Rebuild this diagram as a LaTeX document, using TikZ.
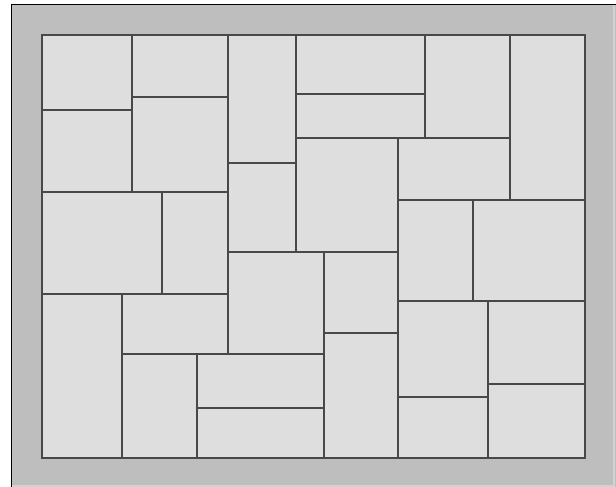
\documentclass[tikz,border=0pt]{standalone}
\begin{document}
\begin{tikzpicture}[x=1pt,y=-1pt,
  tile/.style={fill=tilegray,draw=linegray,line width=1.9pt,line join=miter}]
\definecolor{tilegray}{HTML}{DEDEDE}
\definecolor{framegray}{HTML}{BEBEBE}
\definecolor{linegray}{HTML}{484848}
\definecolor{edgegray}{HTML}{D2D2D2}
\useasboundingbox (0,0) rectangle (616,487);
\fill[white] (0,0) rectangle (616,487);
% frame
\fill[framegray] (11,4) rectangle (616,487);
\draw[edgegray,line width=1.5pt] (614,5) -- (614,486) -- (12,486);
\draw[black,line width=1.8pt] (11.5,487) -- (11.5,4.5) -- (616,4.5);
% tiles
\foreach \a/\b/\c/\d in {
 42/35/132/110, 42/110/132/192, 132/35/228/97, 132/97/228/192,
 228/35/296/163, 228/163/296/252, 296/35/425/94, 296/94/425/138,
 425/35/510/138, 510/35/585/200, 296/138/398/252, 398/138/510/200,
 42/192/162/294, 162/192/228/294, 228/252/324/354, 324/252/398/333,
 398/200/473/301, 473/200/585/301, 42/294/122/458, 122/294/228/354,
 122/354/197/458, 197/354/324/408, 197/408/324/458, 324/333/398/458,
 398/301/488/397, 398/397/488/458, 488/301/585/384, 488/384/585/458}
  \draw[tile] (\a,\b) rectangle (\c,\d);
\end{tikzpicture}
\end{document}
